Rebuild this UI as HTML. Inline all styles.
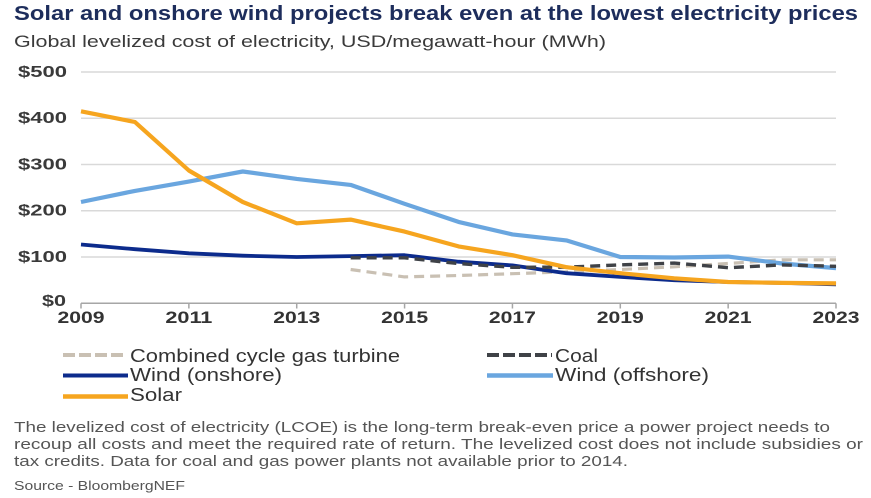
<!DOCTYPE html>
<html>
<head>
<meta charset="utf-8">
<style>
  html, body { margin: 0; padding: 0; background: #ffffff; }
  body { width: 871px; height: 498px; overflow: hidden; }
  svg { display: block; }
  text { font-family: "Liberation Sans", "DejaVu Sans", sans-serif; }
</style>
</head>
<body>
<svg width="871" height="498" viewBox="0 0 871 498" xmlns="http://www.w3.org/2000/svg">
  <rect width="871" height="498" fill="#ffffff"/>

  <!-- Title & subtitle -->
  <text x="14" y="20" font-size="20" font-weight="bold" fill="#1d2d5c" textLength="844" lengthAdjust="spacingAndGlyphs">Solar and onshore wind projects break even at the lowest electricity prices</text>
  <text x="14" y="47" font-size="16.5" fill="#3a3a3a" textLength="592" lengthAdjust="spacingAndGlyphs">Global levelized cost of electricity, USD/megawatt-hour (MWh)</text>

  <!-- Gridlines -->
  <g stroke="#d9d9d9" stroke-width="1.5">
    <line x1="81" y1="72.0" x2="836" y2="72.0"/>
    <line x1="81" y1="118.3" x2="836" y2="118.3"/>
    <line x1="81" y1="164.5" x2="836" y2="164.5"/>
    <line x1="81" y1="210.7" x2="836" y2="210.7"/>
    <line x1="81" y1="257.0" x2="836" y2="257.0"/>
  </g>
  <!-- Axis -->
  <g stroke="#a6a6a6" stroke-width="1.5">
    <line x1="81" y1="303.3" x2="836" y2="303.3"/>
    <line x1="81" y1="303.3" x2="81" y2="308.5"/>
    <line x1="188.86" y1="303.3" x2="188.86" y2="308.5"/>
    <line x1="296.72" y1="303.3" x2="296.72" y2="308.5"/>
    <line x1="404.58" y1="303.3" x2="404.58" y2="308.5"/>
    <line x1="512.44" y1="303.3" x2="512.44" y2="308.5"/>
    <line x1="620.3" y1="303.3" x2="620.3" y2="308.5"/>
    <line x1="728.16" y1="303.3" x2="728.16" y2="308.5"/>
    <line x1="836" y1="303.3" x2="836" y2="308.5"/>
  </g>

  <!-- Y labels -->
  <g font-size="16" font-weight="bold" fill="#3a3a3a" text-anchor="end">
    <text x="67" y="77" textLength="49" lengthAdjust="spacingAndGlyphs">$500</text>
    <text x="67" y="123" textLength="49" lengthAdjust="spacingAndGlyphs">$400</text>
    <text x="67" y="169.5" textLength="49" lengthAdjust="spacingAndGlyphs">$300</text>
    <text x="67" y="215.5" textLength="49" lengthAdjust="spacingAndGlyphs">$200</text>
    <text x="67" y="262" textLength="49" lengthAdjust="spacingAndGlyphs">$100</text>
    <text x="66" y="306" textLength="24" lengthAdjust="spacingAndGlyphs">$0</text>
  </g>

  <!-- X labels -->
  <g font-size="17" font-weight="bold" fill="#333333" text-anchor="middle">
    <text x="81" y="323" textLength="47" lengthAdjust="spacingAndGlyphs">2009</text>
    <text x="188.86" y="323" textLength="47" lengthAdjust="spacingAndGlyphs">2011</text>
    <text x="296.72" y="323" textLength="47" lengthAdjust="spacingAndGlyphs">2013</text>
    <text x="404.58" y="323" textLength="47" lengthAdjust="spacingAndGlyphs">2015</text>
    <text x="512.44" y="323" textLength="47" lengthAdjust="spacingAndGlyphs">2017</text>
    <text x="620.3" y="323" textLength="47" lengthAdjust="spacingAndGlyphs">2019</text>
    <text x="728.16" y="323" textLength="47" lengthAdjust="spacingAndGlyphs">2021</text>
    <text x="836" y="323" textLength="47" lengthAdjust="spacingAndGlyphs">2023</text>
  </g>

  <!-- Series -->
  <g fill="none" stroke-linejoin="round" stroke-linecap="butt">
    <!-- Gas (CCGT) -->
    <polyline stroke="#c9c0b3" stroke-width="3.2" stroke-dasharray="10 6"
      points="350.65,269.5 404.58,276.9 458.51,275.5 512.44,273.7 566.37,271.8 620.3,269.5 674.23,266.8 728.16,263.5 782.09,259.8 836.02,259.8"/>
    <!-- Wind offshore -->
    <polyline stroke="#6aa6df" stroke-width="4.2"
      points="81,202.0 134.93,190.9 188.86,181.6 242.79,171.5 296.72,178.9 350.65,184.9 404.58,203.8 458.51,221.9 512.44,234.4 566.37,240.4 620.3,257.0 674.23,257.5 728.16,256.6 782.09,263.5 836.02,268.1"/>
    <!-- Wind onshore -->
    <polyline stroke="#0c2b8c" stroke-width="3.8"
      points="81,244.5 134.93,249.2 188.86,253.3 242.79,255.7 296.72,257.0 350.65,256.1 404.58,255.2 458.51,261.7 512.44,265.4 566.37,273.2 620.3,276.9 674.23,280.2 728.16,282.0 782.09,282.9 836.02,284.3"/>
    <!-- Coal -->
    <polyline stroke="#3f4247" stroke-width="3.4" stroke-dasharray="10 6"
      points="350.65,257.8 404.58,257.8 458.51,263.6 512.44,267.3 566.37,267.2 620.3,264.9 674.23,263.1 728.16,267.7 782.09,264.9 836.02,266.3"/>
    <!-- Solar -->
    <polyline stroke="#f6a51f" stroke-width="4.2"
      points="81,111.3 134.93,122.0 188.86,170.5 242.79,202.0 296.72,223.3 350.65,219.6 404.58,231.6 458.51,246.4 512.44,255.2 566.37,267.2 620.3,273.2 674.23,278.3 728.16,282.0 782.09,282.9 836.02,283.4"/>
  </g>

  <!-- Legend -->
  <g fill="none">
    <line x1="63" y1="355" x2="126" y2="355" stroke="#c9c0b3" stroke-width="4" stroke-dasharray="12 4"/>
    <line x1="63" y1="375.5" x2="128" y2="375.5" stroke="#0c2b8c" stroke-width="4"/>
    <line x1="63" y1="396.5" x2="128" y2="396.5" stroke="#f6a51f" stroke-width="4.5"/>
    <line x1="487" y1="355" x2="552" y2="355" stroke="#3f4247" stroke-width="4" stroke-dasharray="12 4"/>
    <line x1="487" y1="375.5" x2="553" y2="375.5" stroke="#6aa6df" stroke-width="4.5"/>
  </g>
  <g font-size="18" fill="#333333">
    <text x="130" y="362" textLength="270" lengthAdjust="spacingAndGlyphs">Combined cycle gas turbine</text>
    <text x="130" y="381" textLength="152" lengthAdjust="spacingAndGlyphs">Wind (onshore)</text>
    <text x="130" y="401" textLength="52" lengthAdjust="spacingAndGlyphs">Solar</text>
    <text x="555" y="362" textLength="43" lengthAdjust="spacingAndGlyphs">Coal</text>
    <text x="555" y="381" textLength="154" lengthAdjust="spacingAndGlyphs">Wind (offshore)</text>
  </g>

  <!-- Footnote -->
  <g font-size="14.5" fill="#555555">
    <text x="14" y="432" textLength="816" lengthAdjust="spacingAndGlyphs">The levelized cost of electricity (LCOE) is the long-term break-even price a power project needs to</text>
    <text x="14" y="449" textLength="849" lengthAdjust="spacingAndGlyphs">recoup all costs and meet the required rate of return. The levelized cost does not include subsidies or</text>
    <text x="14" y="466" textLength="614" lengthAdjust="spacingAndGlyphs">tax credits. Data for coal and gas power plants not available prior to 2014.</text>
  </g>
  <text x="14" y="490" font-size="12.5" fill="#555555" textLength="171" lengthAdjust="spacingAndGlyphs">Source - BloombergNEF</text>
</svg>
</body>
</html>
